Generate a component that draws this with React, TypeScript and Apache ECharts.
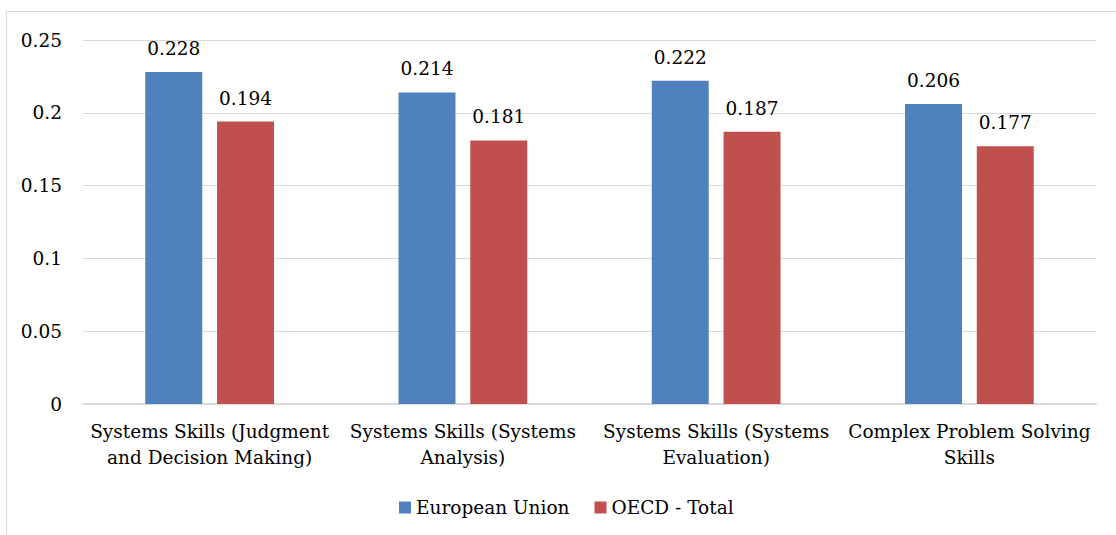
import React, { useEffect, useRef } from "react";
import * as echarts from "echarts";

const categories = [
  "Systems Skills (Judgment\nand Decision Making)",
  "Systems Skills (Systems\nAnalysis)",
  "Systems Skills (Systems\nEvaluation)",
  "Complex Problem Solving\nSkills",
];
const euValues = [0.228, 0.214, 0.222, 0.206];
const oecdValues = [0.194, 0.181, 0.187, 0.177];
const seriesNames = ["European Union", "OECD - Total"];

const FONT = "DejaVu Serif";
const FS = 18.5;

export default function App() {
  const ref = useRef<HTMLDivElement>(null);
  useEffect(() => {
    document.body.style.margin = "0";
    const chart = echarts.init(ref.current!, null, { renderer: "svg" });
    const label = {
      show: true,
      position: "top",
      distance: 14,
      fontFamily: FONT,
      fontSize: FS,
      color: "#000",
    };
    chart.setOption({
      animation: false,
      backgroundColor: "#ffffff",
      textStyle: { fontFamily: FONT },
      graphic: [
        {
          type: "rect",
          shape: { x: 6.5, y: 11.5, width: 1200, height: 600 },
          style: { fill: "none", stroke: "#d9d9d9", lineWidth: 1 },
          silent: true,
        },
      ],
      grid: { left: 83, right: 20, top: 40, bottom: 131 },
      legend: {
        bottom: 13,
        left: 394,
        itemWidth: 12,
        itemHeight: 12,
        itemGap: 25,
        icon: "rect",
        textStyle: { fontFamily: FONT, fontSize: FS, color: "#000" },
        data: seriesNames,
      },
      xAxis: {
        type: "category",
        data: categories,
        axisTick: { show: false },
        axisLine: { lineStyle: { color: "#d9d9d9", width: 2 } },
        axisLabel: {
          interval: 0,
          fontFamily: FONT,
          fontSize: FS,
          color: "#000",
          lineHeight: 26,
          margin: 14,
        },
      },
      yAxis: {
        type: "value",
        min: 0,
        max: 0.25,
        interval: 0.05,
        axisLine: { show: false },
        axisTick: { show: false },
        splitLine: { lineStyle: { color: "#d9d9d9", width: 1 } },
        axisLabel: { fontFamily: FONT, fontSize: FS, color: "#000", margin: 21 },
      },
      series: [
        {
          name: seriesNames[0],
          type: "bar",
          data: euValues,
          barWidth: "22.5%",
          barGap: "26%",
          itemStyle: { color: "#4F81BD" },
          label,
        },
        {
          name: seriesNames[1],
          type: "bar",
          data: oecdValues,
          barWidth: "22.5%",
          barGap: "26%",
          itemStyle: { color: "#C0504D" },
          label,
        },
      ],
    });
    return () => chart.dispose();
  }, []);
  return <div ref={ref} style={{ width: 1116, height: 535 }} />;
}
